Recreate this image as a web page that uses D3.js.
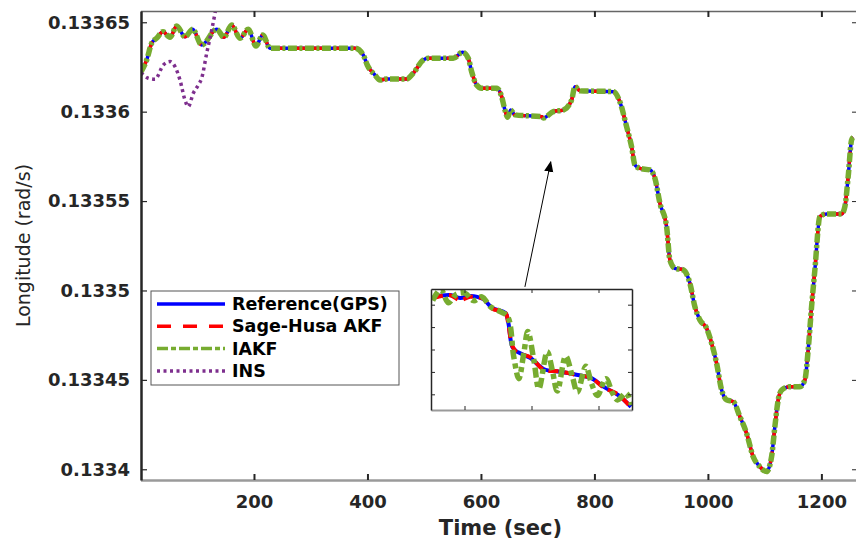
<!DOCTYPE html>
<html>
<head>
<meta charset="utf-8">
<script src="https://cdn.jsdelivr.net/npm/d3@7"></script>
<style>
  body { margin: 0; background: #fff; }
  svg { display: block; font-family: "DejaVu Sans", sans-serif; }
</style>
</head>
<body>
<div id="chart"></div>
<script>
// ---- data ----
// time (s) and longitude of the reference track; Sage-Husa AKF and IAKF sit on it within the line width
const timeSec = [1, 10.9, 19.7, 28.5, 39.6, 52, 63.8, 78.4, 92, 107.8, 134.3, 147.1, 160.7, 175.3, 190, 203.5, 215.3,
  228.2, 378, 392.6, 399.6, 413.2, 422, 433.8, 469.1, 480.7, 498.3, 507.1, 551.2, 567.7, 577.6, 583.6, 592.4,
  601.2, 627.7, 636.5, 642.3, 647.1, 652.3, 659.9, 707, 710, 727.4, 745, 759.8, 765.6, 774.5, 833.1, 845,
  856.7, 865.5, 871.4, 880.2, 897.8, 906.6, 915.4, 927.2, 933, 941.9, 956.5, 968.3, 977.1, 985.9, 997.7,
  1006.5, 1015.3, 1024.2, 1033, 1044.6, 1056.4, 1068.2, 1079.8, 1091.6, 1103.4, 1112.2, 1118, 1123.9, 1129.9,
  1144.5, 1162.1, 1170.9, 1176.7, 1182.7, 1188.5, 1197.4, 1209.2, 1235.6, 1241.4, 1247.2, 1253.2, 1256];
const longitudeRef = [0.1336224, 0.1336289, 0.1336383, 0.1336411, 0.1336447, 0.1336416, 0.1336479, 0.1336419,
  0.1336461, 0.1336373, 0.1336461, 0.1336416, 0.1336485, 0.1336411, 0.1336461, 0.1336367, 0.1336429,
  0.1336355, 0.1336355, 0.1336317, 0.1336261, 0.1336205, 0.1336177, 0.1336183, 0.1336183, 0.1336215,
  0.1336289, 0.1336299, 0.1336299, 0.1336332, 0.1336299, 0.1336224, 0.1336149, 0.1336131, 0.1336131,
  0.1336084, 0.1336009, 0.1335969, 0.1336009, 0.1335982, 0.1335972, 0.1335965, 0.1336000, 0.1336009,
  0.1336065, 0.1336140, 0.1336117, 0.1336112, 0.1336054, 0.1335916, 0.1335804, 0.1335702, 0.1335683,
  0.1335674, 0.1335628, 0.1335488, 0.1335357, 0.1335171, 0.1335124, 0.1335115, 0.1335040, 0.1334909,
  0.1334835, 0.1334789, 0.1334705, 0.1334593, 0.1334443, 0.1334388, 0.1334378, 0.1334294, 0.1334201,
  0.1334070, 0.1334014, 0.1333987, 0.1334070, 0.1334238, 0.1334388, 0.1334443, 0.1334462, 0.1334462,
  0.1334499, 0.1334667, 0.1334909, 0.1335115, 0.1335413, 0.1335428, 0.1335428, 0.1335469, 0.1335636,
  0.1335842, 0.1335857];

// INS drifts off the top of the axes early on
const insTime = [1, 13.7, 25.6, 40.2, 52, 60.8, 69.6, 78.4, 84.2, 93, 101.9, 107.8, 116.7, 125.5, 131.3, 134];
const longitudeIns = [0.1336218, 0.1336187, 0.1336181, 0.1336261, 0.1336280, 0.1336252, 0.1336177, 0.1336065,
  0.1336028, 0.1336103, 0.1336149, 0.1336187, 0.1336327, 0.1336457, 0.1336550, 0.1336597];

// inset: zoom on 630-690 s, longitude offset in 1e-6 rad
const insetTime = [630.6, 635.7, 638.7, 641.7, 645.6, 648.3, 652.2, 653.1, 654.3, 655.8, 659.7, 663.6, 668.7,
  673.8, 677.7, 681.6, 685.8, 689.7];
const insetRef = [5.04, 5.13, 5.00, 5.09, 4.95, 4.55, 4.33, 3.88, 2.81, 2.59, 2.32, 1.83, 1.70, 1.56, 1.43,
  1.03, 0.67, 0.14];
const insetSage = [5.00, 5.12, 4.90, 5.05, 4.97, 4.52, 4.35, 3.80, 2.85, 2.55, 2.36, 1.80, 1.72, 1.55, 1.45,
  1.00, 0.70, 0.12];
const insetIakfTime = [630.5, 632.9, 635.2, 637.7, 640.2, 642.7, 645.2, 647.7, 650.7, 652.9, 654.7, 656.2,
  657.7, 658.9, 660.7, 662.2, 664.7, 666.2, 667.7, 670.2, 672.2, 673.7, 676.2, 677.9, 679.7, 682.2, 684.2,
  685.7, 688.2, 689.9];
const insetIakf = [4.88, 5.38, 4.79, 5.18, 5.21, 4.88, 5.05, 4.61, 4.39, 4.16, 2.38, 1.40, 2.53, 3.50, 2.23,
  0.95, 2.60, 1.78, 0.85, 2.40, 1.49, 0.80, 1.95, 1.19, 0.65, 1.40, 0.75, 0.45, 0.75, 0.22];

const xTicks = [200, 400, 600, 800, 1000, 1200];
const yTicks = [0.1334, 0.13345, 0.1335, 0.13355, 0.1336, 0.13365];
const insetXTicks = [640, 660, 680];
const insetYTicks = [0.7, 1.7, 2.7, 3.7, 4.7];
const seriesNames = ["Reference(GPS)", "Sage-Husa AKF", "IAKF", "INS"];
// arrow from the inset up to the zoomed stretch (time, longitude)
const arrowFrom = [677.5, 0.133502];
const arrowTo = [723, 0.1335719];

// ---- layout ----
const width = 856, height = 540;
const plot = { left: 141, right: 856, top: 11, bottom: 480 };
const ink = "#262626";

const svg = d3.select("#chart").append("svg")
  .attr("width", width)
  .attr("height", height);

const x = d3.scaleLinear().domain([0, 1261]).range([140.5, 856]);
const y = d3.scaleLinear().domain([0.133394, 0.1336563]).range([plot.bottom, plot.top]);

svg.append("defs").append("clipPath").attr("id", "plotClip")
  .append("rect")
  .attr("x", plot.left).attr("y", plot.top)
  .attr("width", plot.right - plot.left).attr("height", plot.bottom - plot.top);

const styles = [
  { color: "#0000ff", width: 3.5, dash: null },
  { color: "#ff0000", width: 3.5, dash: "12,8" },
  { color: "#77ac30", width: 5.5, dash: "9,2.5,3,2.5" },
  { color: "#7e2f8e", width: 3.5, dash: "3,3.5" }
];

const line = d3.line()
  .x(d => x(d[0]))
  .y(d => y(d[1]))
  .curve(d3.curveMonotoneX);

const refPts = timeSec.map((t, i) => [t, longitudeRef[i]]);
const insPts = insTime.map((t, i) => [t, longitudeIns[i]]);
const mainSeries = [refPts, refPts, refPts, insPts];

const lines = svg.append("g").attr("clip-path", "url(#plotClip)");
mainSeries.forEach((pts, i) => {
  lines.append("path")
    .datum(pts)
    .attr("d", line)
    .attr("fill", "none")
    .attr("stroke", styles[i].color)
    .attr("stroke-width", styles[i].width)
    .attr("stroke-dasharray", styles[i].dash)
    .attr("stroke-linejoin", "round");
});

// ---- axes ----
const fmt = d => String(+d.toFixed(5));

const gx = svg.append("g")
  .attr("transform", `translate(0,${plot.bottom})`)
  .call(d3.axisBottom(x).tickValues(xTicks).tickSize(-6).tickSizeOuter(0).tickPadding(15).tickFormat(d3.format("d")));
gx.select(".domain").attr("stroke", "#9a9a9a").attr("stroke-width", 2.5);
gx.selectAll(".tick line").attr("stroke", ink).attr("stroke-width", 2);

const gTop = svg.append("g")
  .attr("transform", `translate(0,${plot.top})`)
  .call(d3.axisTop(x).tickValues(xTicks).tickSize(-6).tickSizeOuter(0).tickFormat(""));
gTop.select(".domain").attr("stroke", "#666").attr("stroke-width", 1.5);
gTop.selectAll(".tick line").attr("stroke", ink).attr("stroke-width", 2);

const gRight = svg.append("g")
  .attr("transform", `translate(857,0)`)
  .call(d3.axisRight(y).tickValues(yTicks).tickSize(-5).tickSizeOuter(0).tickFormat(""));
gRight.selectAll(".tick line").attr("stroke", ink);

const gy = svg.append("g")
  .attr("transform", `translate(${plot.left},0)`)
  .call(d3.axisLeft(y).tickValues(yTicks).tickSize(-6).tickSizeOuter(0).tickPadding(11).tickFormat(fmt));
gy.select(".domain").attr("stroke", ink).attr("stroke-width", 2.5);
gy.selectAll(".tick line").attr("stroke", ink).attr("stroke-width", 1.2);

svg.selectAll(".tick text")
  .attr("font-family", "DejaVu Sans")
  .attr("font-size", 18)
  .attr("font-weight", "bold")
  .attr("fill", ink);

svg.append("text")
  .attr("x", (plot.left + plot.right) / 2 + 2)
  .attr("y", 535)
  .attr("text-anchor", "middle")
  .attr("font-size", 21)
  .attr("font-weight", "bold")
  .attr("fill", ink)
  .text("Time (sec)");

svg.append("text")
  .attr("transform", `translate(23,${(plot.top + plot.bottom) / 2}) rotate(-90)`)
  .attr("text-anchor", "middle")
  .attr("dominant-baseline", "central")
  .attr("font-size", 19)
  .attr("fill", ink)
  .text("Longitude (rad/s)");

// ---- legend ----
const legend = svg.append("g").attr("transform", "translate(151,291)");
legend.append("rect")
  .attr("width", 248).attr("height", 94)
  .attr("fill", "#fff").attr("stroke", "#555").attr("stroke-width", 1);

const legendDash = [null, "14,12", "11,3,5,3", "3,3.5"];
seriesNames.forEach((name, i) => {
  const ly = 13 + i * 22.3;
  legend.append("line")
    .attr("x1", 6).attr("x2", 74)
    .attr("y1", ly).attr("y2", ly)
    .attr("stroke", styles[i].color)
    .attr("stroke-width", 3.5)
    .attr("stroke-dasharray", legendDash[i]);
  legend.append("text")
    .attr("x", 81).attr("y", ly + 6)
    .attr("font-size", 17.5)
    .attr("font-weight", "bold")
    .attr("fill", "#000")
    .text(name);
});

// ---- arrow ----
const defs = svg.select("defs");
defs.append("marker")
  .attr("id", "arrowHead")
  .attr("viewBox", "0 0 10 10")
  .attr("refX", 9).attr("refY", 5)
  .attr("markerWidth", 11).attr("markerHeight", 11)
  .attr("markerUnits", "userSpaceOnUse")
  .attr("orient", "auto")
  .append("path").attr("d", "M0,0.8 L10,5 L0,9.2 Z").attr("fill", "#000");

svg.append("line")
  .attr("x1", x(arrowFrom[0])).attr("y1", y(arrowFrom[1]))
  .attr("x2", x(arrowTo[0])).attr("y2", y(arrowTo[1]))
  .attr("stroke", "#000").attr("stroke-width", 1)
  .attr("marker-end", "url(#arrowHead)");

// ---- inset ----
const box = { left: 431, right: 632, top: 289, bottom: 410 };
const ix = d3.scaleLinear().domain([630, 690]).range([box.left, box.right]);
const iy = d3.scaleLinear().domain([0, 5.4]).range([box.bottom, box.top]);

defs.append("clipPath").attr("id", "insetClip")
  .append("rect")
  .attr("x", box.left).attr("y", box.top)
  .attr("width", box.right - box.left).attr("height", box.bottom - box.top);

const inset = svg.append("g");
inset.append("rect")
  .attr("x", box.left).attr("y", box.top)
  .attr("width", box.right - box.left).attr("height", box.bottom - box.top)
  .attr("fill", "#fff");

const insetLine = d3.line().x(d => ix(d[0])).y(d => iy(d[1])).curve(d3.curveCatmullRom);
const insetSeries = [
  { pts: insetTime.map((t, i) => [t, insetRef[i]]), color: "#0000ff", w: 4, dash: null },
  { pts: insetTime.map((t, i) => [t, insetSage[i]]), color: "#ff0000", w: 4, dash: "10,6" },
  { pts: insetIakfTime.map((t, i) => [t, insetIakf[i]]), color: "#77ac30", w: 5.5, dash: "10,4,5,4" }
];
const insetLines = inset.append("g").attr("clip-path", "url(#insetClip)");
insetSeries.forEach(s => {
  insetLines.append("path")
    .datum(s.pts)
    .attr("d", insetLine)
    .attr("fill", "none")
    .attr("stroke", s.color)
    .attr("stroke-width", s.w)
    .attr("stroke-dasharray", s.dash);
});

const ib = inset.append("g").attr("transform", `translate(0,${box.bottom})`)
  .call(d3.axisBottom(ix).tickValues(insetXTicks).tickSize(-4).tickSizeOuter(0).tickFormat(""));
ib.select(".domain").attr("stroke", "#9a9a9a").attr("stroke-width", 2);
const it = inset.append("g").attr("transform", `translate(0,${box.top})`)
  .call(d3.axisTop(ix).tickValues(insetXTicks).tickSize(-4).tickSizeOuter(0).tickFormat(""));
const il = inset.append("g").attr("transform", `translate(${box.left},0)`)
  .call(d3.axisLeft(iy).tickValues(insetYTicks).tickSize(-4).tickSizeOuter(0).tickFormat(""));
const ir = inset.append("g").attr("transform", `translate(${box.right},0)`)
  .call(d3.axisRight(iy).tickValues(insetYTicks).tickSize(-4).tickSizeOuter(0).tickFormat(""));
[it, il, ir].forEach(g => g.select(".domain").attr("stroke", ink).attr("stroke-width", 1.5));
inset.selectAll(".tick line").attr("stroke", ink);
</script>
</body>
</html>
